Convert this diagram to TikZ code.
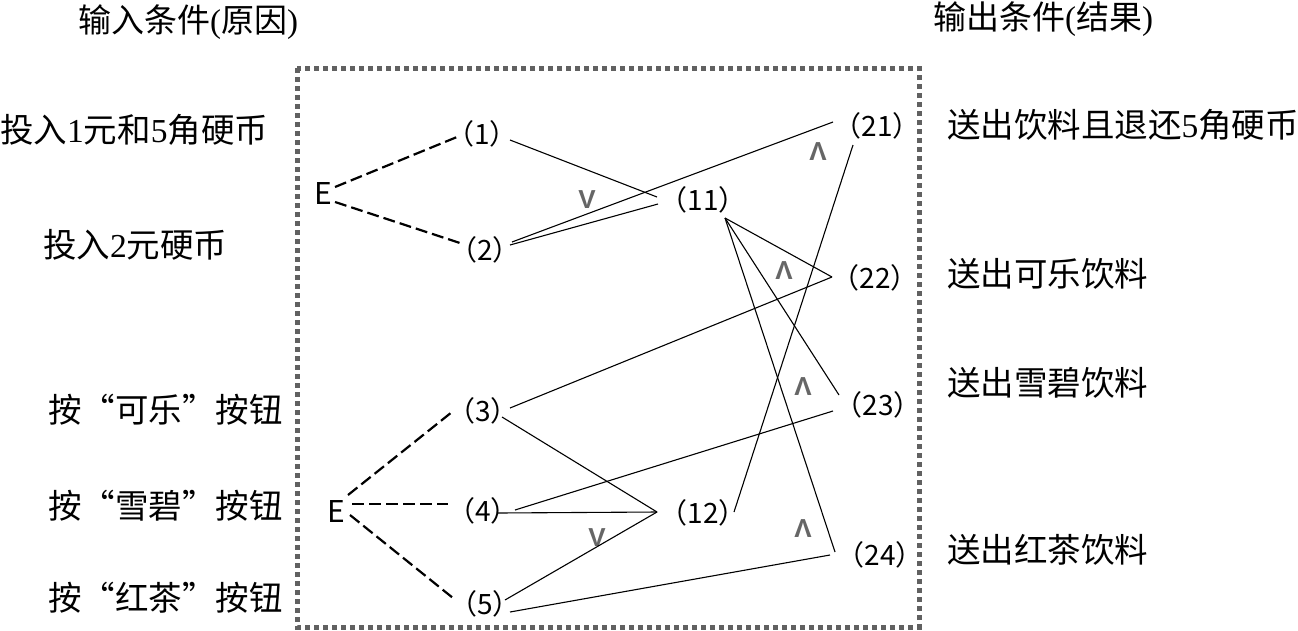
\documentclass[tikz,border=0pt]{standalone}
\usepackage{fontspec}
\setmainfont{Liberation Serif}
\newfontfamily\cjk{Noto Sans CJK SC}
\newfontfamily\lsans{Liberation Sans}
\begin{document}
\begin{tikzpicture}[x=1pt,y=-1pt,
  lbl/.style={inner sep=0pt, anchor=west, font=\fontsize{33.5}{36}\selectfont},
  ttl/.style={inner sep=0pt, anchor=west, font=\fontsize{33}{36}\selectfont},
  num/.style={inner sep=0pt, font=\cjk\fontsize{28}{30}\selectfont},
  enode/.style={inner sep=0pt, font=\cjk\fontsize{30}{32}\selectfont},
  op/.style={inner sep=0pt, text=black!60, font=\lsans\bfseries\fontsize{26}{28}\selectfont},
  link/.style={line width=1.1pt},
  mask/.style={line width=2.2pt, dash pattern=on 12pt off 5pt},
  frame/.style={draw=black!62, line width=5pt, dash pattern=on 5pt off 4pt}]
\useasboundingbox (0,0) rectangle (1298,630);
\draw[frame] (297,68) rectangle (919,627);

% titles and side labels
\node[ttl] (t1) at (78,22) {{\cjk 输入条件}({\cjk 原因})};
\node[ttl] (t2) at (933,19) {{\cjk 输出条件}({\cjk 结果})};
\node[lbl] (l1) at (0,130) {{\cjk 投入}1{\cjk 元和}5{\cjk 角硬币}};
\node[lbl] (l2) at (43,245) {{\cjk 投入}2{\cjk 元硬币}};
\node[lbl] (l3) at (48,410) {\cjk 按“可乐”按钮};
\node[lbl] (l4) at (48,506) {\cjk 按“雪碧”按钮};
\node[lbl] (l5) at (48,598) {\cjk 按“红茶”按钮};
\node[lbl] (r1) at (947,125) {{\cjk 送出饮料且退还}5{\cjk 角硬币}};
\node[lbl] (r2) at (947,274) {\cjk 送出可乐饮料};
\node[lbl] (r3) at (947,383) {\cjk 送出雪碧饮料};
\node[lbl] (r4) at (947,550) {\cjk 送出红茶饮料};

% nodes
\node[enode] (e1) at (323,193) {E};
\node[enode] (e2) at (336,511) {E};
\node[num] (n1) at (482,134) {（1）};
\node[num] (n2) at (485,250) {（2）};
\node[num] (n3) at (483,411) {（3）};
\node[num] (n4) at (483,511) {（4）};
\node[num] (n5) at (485,604) {（5）};
\node[num] (n11) at (703,200) {（11）};
\node[num] (n12) at (703,513) {（12）};
\node[num] (n21) at (877,126) {（21）};
\node[num] (n22) at (875,278) {（22）};
\node[num] (n23) at (878,405) {（23）};
\node[num] (n24) at (880,555) {（24）};

% operators
\node[op] (o1) at (587,200) {V};
\node[op] (o2) at (597,538) {V};
\node[op] (o3) at (818,152) {Λ};
\node[op] (o4) at (784,271) {Λ};
\node[op] (o5) at (803,387) {Λ};
\node[op] (o6) at (803,529) {Λ};

% dashed (mask) connectors
\draw[mask] ([shift={(12,-6)}]e1.center) -- ([shift={(-25,3)}]n1.center);
\draw[mask] ([shift={(12,9)}]e1.center) -- ([shift={(-25,-7)}]n2.center);
\draw[mask] ([shift={(12,-16)}]e2.center) -- ([shift={(-31,1)}]n3.center);
\draw[mask] ([shift={(16,-7)}]e2.center) -- ([shift={(-35,-7)}]n4.center);
\draw[mask] ([shift={(14,4)}]e2.center) -- ([shift={(-32,-6)}]n5.center);

% solid connectors
\draw[link] ([shift={(28,6)}]n1.center) -- ([shift={(-46,-3)}]n11.center);
\draw[link] ([shift={(25,-5)}]n2.center) -- ([shift={(-45,4)}]n11.center);
\draw[link] ([shift={(27,-8)}]n2.center) -- ([shift={(-44,-4)}]n21.center);
\draw[link] ([shift={(22,18)}]n11.center) -- ([shift={(-43,-1)}]n22.center);
\draw[link] ([shift={(22,18)}]n11.center) -- ([shift={(-39,-10)}]n23.center);
\draw[link] ([shift={(22,18)}]n11.center) -- ([shift={(-45,-3)}]n24.center);
\draw[link] ([shift={(31,-1)}]n12.center) -- ([shift={(-24,19)}]n21.center);
\draw[link] ([shift={(27,-3)}]n3.center) -- ([shift={(-43,-1)}]n22.center);
\draw[link] ([shift={(19,6)}]n3.center) -- ([shift={(-46,-1)}]n12.center);
\draw[link] ([shift={(15,2)}]n4.center) -- ([shift={(-46,-1)}]n12.center);
\draw[link] ([shift={(32,-1)}]n4.center) -- ([shift={(-45,6)}]n23.center);
\draw[link] ([shift={(20,-4)}]n5.center) -- ([shift={(-46,-1)}]n12.center);
\draw[link] ([shift={(25,8)}]n5.center) -- ([shift={(-50,0)}]n24.center);
\end{tikzpicture}
\end{document}
